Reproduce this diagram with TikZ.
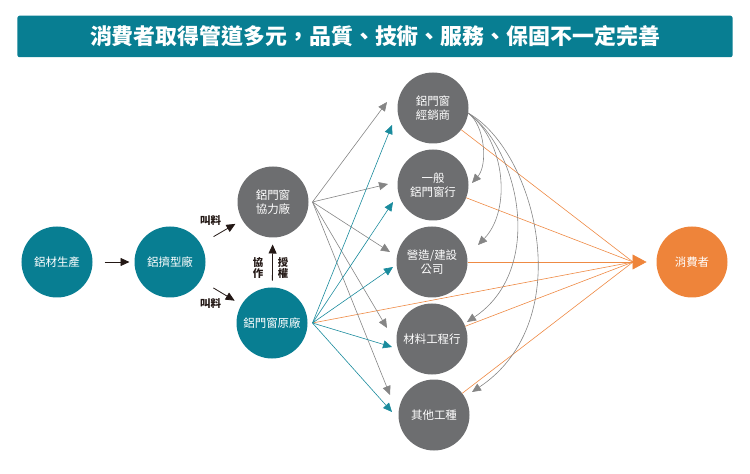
\documentclass[tikz,border=0pt]{standalone}
\usepackage{fontspec}
\newfontfamily\cjk{Noto Sans CJK TC}
\usetikzlibrary{arrows.meta,calc}
\definecolor{tealc}{HTML}{087E92}
\definecolor{grayc}{HTML}{6D6E70}
\definecolor{orangec}{HTML}{EE843A}
\definecolor{glinec}{HTML}{858585}
\definecolor{tlinec}{HTML}{1A8B9D}
\definecolor{olinec}{HTML}{EE8A44}
\definecolor{blkc}{HTML}{231815}
\tikzset{
  circ/.style={circle, minimum size=71bp, inner sep=0pt, outer sep=0pt, text=white, align=center, font=\cjk\fontsize{11.5}{14}\selectfont},
  tealnode/.style={circ, fill=tealc},
  graynode/.style={circ, fill=grayc},
  orangenode/.style={circ, fill=orangec},
  grayarr/.style={draw=glinec, line width=0.6bp, -{Triangle[length=9bp,width=8bp]}, fill=none},
  tealarr/.style={draw=tlinec, line width=0.6bp, -{Triangle[length=9bp,width=8bp]}},
  oline/.style={draw=olinec, line width=0.6bp},
  blkarr/.style={draw=blkc, line width=0.8bp, -{Triangle[length=9bp,width=8bp]}},
  lbl/.style={text=blkc, inner sep=0pt, align=center, font=\cjk\bfseries\fontsize{10.5}{11.5}\selectfont},
}
\begin{document}
\begin{tikzpicture}[x=1bp,y=-1bp]
\useasboundingbox (0,0) rectangle (750,474);
% title
\node[fill=tealc, rounded corners=2bp, minimum width=715bp, minimum height=41.5bp, inner sep=0pt, text=white, font=\cjk\bfseries\fontsize{22}{26}\selectfont] (title) at (375,36.5) {消費者取得管道多元，品質、技術、服務、保固不一定完善};
% nodes
\node[tealnode] (s1) at (57,262) {鋁材生產};
\node[tealnode] (s2) at (170,262) {鋁擠型廠};
\node[graynode] (xl) at (273,202) {鋁門窗\\協力廠};
\node[tealnode] (yc) at (272,323) {鋁門窗原廠};
\node[graynode] (a1) at (433,108) {鋁門窗\\經銷商};
\node[graynode] (a2) at (433,185) {一般\\鋁門窗行};
\node[graynode] (a3) at (432,262) {營造/建設\\公司};
\node[graynode] (a4) at (432,339) {材料工程行};
\node[graynode] (a5) at (434,415) {其他工種};
\node[orangenode] (c) at (692,262) {消費者};
% labels
\node[lbl] (l1) at (210.5,220.5) {叫料};
\node[lbl] (l2) at (210.5,303.5) {叫料};
\node[lbl] (l3) at (258,268) {協\\作};
\node[lbl] (l4) at (283,268) {授\\權};
% coordinates
\coordinate (xlo) at ($(xl.east)+(4,0)$);
\coordinate (yco) at ($(yc.east)+(5,0)$);
\coordinate (g1) at (387,102);
\coordinate (g2) at (388,184);
\coordinate (g3) at (390,252);
\coordinate (g4) at (387,328);
\coordinate (g5) at (390,395);
\coordinate (t1) at (392,125);
\coordinate (t2) at (393,202);
\coordinate (t3) at (393,267);
\coordinate (t4) at (392,347);
\coordinate (t5) at (392,412);
\coordinate (conv) at (633,262);
\coordinate (ctip) at ($(c.west)+(-10,0)$);
\coordinate (a1o) at (468,113);
\coordinate (k2) at (472,183);
\coordinate (k3) at (478,245);
\coordinate (k4) at (467,322);
\coordinate (k5) at (472,392);
% black arrows
\draw[blkarr, shorten <=12bp, shorten >=5bp] (s1) -- (s2);
\draw[blkarr, shorten <=15bp, shorten >=8bp] (s2) -- (xl);
\draw[blkarr, shorten <=15bp, shorten >=8bp] (s2) -- (yc);
\draw[blkarr, shorten <=7bp, shorten >=7bp] (yc) -- (xl);
% orange lines
\draw[oline] (a1) -- (conv);
\draw[oline] (a2) -- (conv);
\draw[oline] (a3) -- (conv);
\draw[oline] (a4) -- (conv);
\draw[oline] (a5) -- (conv);
\draw[oline] (yco) -- (conv);
\draw[draw=olinec, line width=0.6bp, -{Triangle[length=14bp,width=15bp]}, color=orangec] (conv) -- (ctip);
% gray arrows from xl
\draw[grayarr] (xlo) -- (g1);
\draw[grayarr] (xlo) -- (g2);
\draw[grayarr] (xlo) -- (g3);
\draw[grayarr] (xlo) -- (g4);
\draw[grayarr] (xlo) -- (g5);
% teal arrows from yc
\draw[tealarr] (yco) -- (t1);
\draw[tealarr] (yco) -- (t2);
\draw[tealarr] (yco) -- (t3);
\draw[tealarr] (yco) -- (t4);
\draw[tealarr] (yco) -- (t5);
% curved arrows from a1
\draw[grayarr] (a1o) .. controls (485,125) and (488,165) .. (k2);
\draw[grayarr] (a1o) .. controls (505,140) and (512,210) .. (k3);
\draw[grayarr] (a1o) .. controls (520,150) and (545,270) .. (k4);
\draw[grayarr] (a1o) .. controls (535,150) and (580,320) .. (k5);
\end{tikzpicture}
\end{document}
